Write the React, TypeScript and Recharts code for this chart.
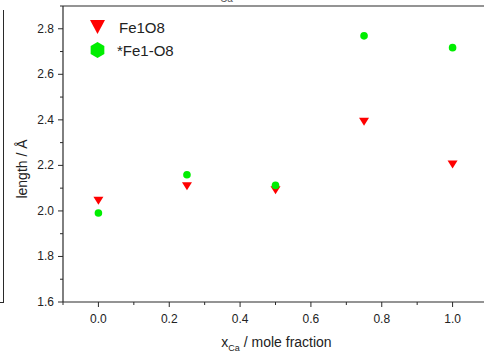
import React from 'react'
import {
  ScatterChart,
  Scatter,
  XAxis,
  YAxis,
  ReferenceLine,
} from 'recharts'

// mole fraction of Ca
const xCa = [0, 0.25, 0.5, 0.75, 1.0]
// bond lengths (Å)
const fe1o8 = [2.045, 2.108, 2.091, 2.392, 2.204]
const fe1o8Star = [1.991, 2.159, 2.112, 2.769, 2.717]

const xTicks = [-0.1, 0, 0.1, 0.2, 0.3, 0.4, 0.5, 0.6, 0.7, 0.8, 0.9, 1.0, 1.1]
const yTicks = [1.6, 1.7, 1.8, 1.9, 2.0, 2.1, 2.2, 2.3, 2.4, 2.5, 2.6, 2.7, 2.8, 2.9]

const FONT = 'Arial, "Liberation Sans", sans-serif'
const AXIS = '#2a2a2a'
const RED = '#ff0000'
const GREEN = '#00ee00'

const seriesA = xCa.map((x, i) => ({ x, y: fe1o8[i] }))
const seriesB = xCa.map((x, i) => ({ x, y: fe1o8Star[i] }))

const isMajor = (v: number) => Math.abs(Math.round(v * 10)) % 2 === 0

const YTick = (props: any) => {
  const { x, y, payload } = props
  const v = payload.value
  const major = isMajor(v)
  if (v > 2.85 && !major) {
    return <line x1={x} x2={x - 3} y1={y} y2={y} stroke={AXIS} />
  }
  return (
    <g>
      <line x1={x} x2={x - (major ? 5 : 3)} y1={y} y2={y} stroke={AXIS} />
      {major && (
        <text x={x - 9} y={y} textAnchor="end" dominantBaseline="central" fontSize={12} fontFamily={FONT} fill="#222">
          {v.toFixed(1)}
        </text>
      )}
    </g>
  )
}

const XTick = (props: any) => {
  const { x, y, payload } = props
  const v = payload.value
  const major = isMajor(v)
  return (
    <g>
      <line x1={x} x2={x} y1={y} y2={y + (major ? 5 : 3)} stroke={AXIS} />
      {major && (
        <text x={x} y={y + 17} textAnchor="middle" dominantBaseline="central" fontSize={12} fontFamily={FONT} fill="#222">
          {v.toFixed(1)}
        </text>
      )}
    </g>
  )
}

const XLabel = (props: any) => {
  const { x, y, width } = props.viewBox
  return (
    <text x={x + width / 2 + 1} y={y + 45} textAnchor="middle" fontSize={14} fontFamily={FONT} fill="#222">
      x<tspan fontSize={9} dy={4}>Ca</tspan>
      <tspan dy={-4}> / mole fraction</tspan>
    </text>
  )
}

const YLabel = (props: any) => {
  const { y, height } = props.viewBox
  const cx = 22
  const cy = y + height / 2 + 15
  return (
    <text
      x={cx}
      y={cy}
      transform={`rotate(-90 ${cx} ${cy})`}
      textAnchor="middle"
      dominantBaseline="central"
      fontSize={14}
      fontFamily={FONT}
      fill="#222"
    >
      length / Å
    </text>
  )
}

const DownTriangle = (props: any) => {
  const { cx, cy } = props
  const w = 5, h = 4
  return <polygon points={`${cx - w},${cy - h} ${cx + w},${cy - h} ${cx},${cy + h}`} fill={RED} />
}

const Dot = (props: any) => {
  const { cx, cy } = props
  return <circle cx={cx} cy={cy} r={3.8} fill={GREEN} />
}

const hexPoints = (cx: number, cy: number, r: number) =>
  [0, 1, 2, 3, 4, 5]
    .map((k) => {
      const a = (Math.PI / 3) * k - Math.PI / 2
      return `${cx + r * Math.cos(a)},${cy + r * Math.sin(a)}`
    })
    .join(' ')

const LegendBox = () => (
  <svg width={140} height={50} style={{ overflow: 'visible' }}>
    <polygon points="0,0 15,0 7.5,14" fill={RED} transform="translate(0,1)" />
    <text x={29} y={8} fontSize={15} fontFamily={FONT} fill="#222" dominantBaseline="central">
      Fe1O8
    </text>
    <polygon points={hexPoints(7.5, 31, 7.9)} fill={GREEN} />
    <text x={27} y={31} fontSize={15} fontFamily={FONT} fill="#222" dominantBaseline="central">
      *Fe1-O8
    </text>
  </svg>
)

export default function App() {
  return (
    <div
      style={{
        position: 'fixed',
        left: 0,
        top: 0,
        width: 484,
        height: 358,
        overflow: 'hidden',
        background: '#fff',
      }}
    >
      {/* edge of neighbouring panel */}
      <div style={{ position: 'absolute', left: 3, top: 10, width: 0, height: 293, borderLeft: `1px solid ${AXIS}` }} />
      <div style={{ position: 'absolute', left: 0, top: 302, width: 3, height: 0, borderTop: `1px solid ${AXIS}` }} />
      <div
        style={{
          position: 'absolute',
          left: 220,
          top: -7,
          fontSize: 10,
          fontFamily: FONT,
          color: '#555',
        }}
      >
        Ca
      </div>
      <div style={{ position: 'absolute', left: 0, top: 0 }}>
        <ScatterChart width={488} height={358} margin={{ top: 6, right: 0, bottom: 0, left: 0 }}>
          <XAxis
            type="number"
            dataKey="x"
            domain={[-0.1, 1.1]}
            ticks={xTicks}
            interval={0}
            allowDataOverflow
            height={56}
            tickSize={0}
            tickMargin={0}
            tickLine={false}
            tick={<XTick />}
            axisLine={{ stroke: AXIS, strokeWidth: 1.2 }}
            label={<XLabel />}
          />
          <YAxis
            type="number"
            dataKey="y"
            domain={[1.6, 2.9]}
            ticks={yTicks}
            interval={0}
            allowDataOverflow
            width={63}
            tickSize={0}
            tickMargin={0}
            tickLine={false}
            tick={<YTick />}
            axisLine={{ stroke: AXIS, strokeWidth: 1.2 }}
            label={<YLabel />}
          />
          <ReferenceLine y={2.9} stroke={AXIS} strokeWidth={1.2} ifOverflow="visible" />
          <Scatter name="Fe1O8" data={seriesA} shape={<DownTriangle />} isAnimationActive={false} />
          <Scatter name="*Fe1-O8" data={seriesB} shape={<Dot />} isAnimationActive={false} />
        </ScatterChart>
      </div>
      <div style={{ position: 'absolute', left: 90, top: 19 }}>
        <LegendBox />
      </div>
    </div>
  )
}
